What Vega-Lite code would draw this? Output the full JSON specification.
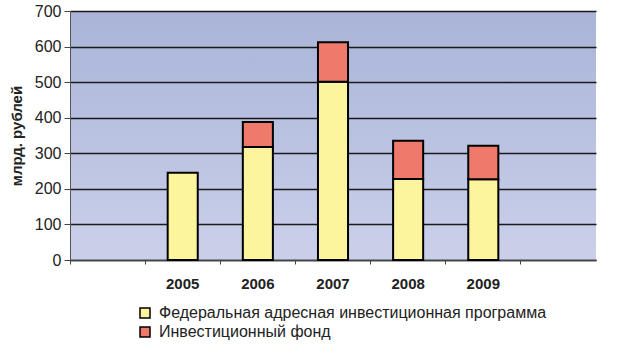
{
  "$schema": "https://vega.github.io/schema/vega-lite/v6.json",
  "autosize": "none",
  "width": 526,
  "height": 249,
  "padding": {"left": 70, "top": 11, "right": 22, "bottom": 93},
  "background": "white",
  "config": {
    "font": "Liberation Sans",
    "view": {"stroke": null, "fill": {"gradient": "linear", "x1": 0, "y1": 0, "x2": 0, "y2": 1, "stops": [{"offset": 0, "color": "#a9b4d8"}, {"offset": 1, "color": "#cbd0ea"}]}}
  },
  "data": {
    "values": [
      {"year": "2005", "series": "Федеральная адресная инвестиционная программа", "order": 1, "value": 245},
      {"year": "2006", "series": "Федеральная адресная инвестиционная программа", "order": 1, "value": 318},
      {"year": "2006", "series": "Инвестиционный фонд", "order": 2, "value": 70},
      {"year": "2007", "series": "Федеральная адресная инвестиционная программа", "order": 1, "value": 501},
      {"year": "2007", "series": "Инвестиционный фонд", "order": 2, "value": 111},
      {"year": "2008", "series": "Федеральная адресная инвестиционная программа", "order": 1, "value": 228},
      {"year": "2008", "series": "Инвестиционный фонд", "order": 2, "value": 107},
      {"year": "2009", "series": "Федеральная адресная инвестиционная программа", "order": 1, "value": 227},
      {"year": "2009", "series": "Инвестиционный фонд", "order": 2, "value": 94}
    ]
  },
  "mark": {"type": "bar", "stroke": "black", "strokeWidth": 2, "width": {"band": 0.4}},
  "encoding": {
    "x": {
      "field": "year",
      "type": "ordinal",
      "scale": {"domain": ["", "2005", "2006", "2007", "2008", "2009", " "], "paddingInner": 0, "paddingOuter": 0},
      "axis": {
        "title": null,
        "labelAngle": 0,
        "labelFont": "Liberation Sans",
        "labelFontSize": 15,
        "labelFontWeight": "bold",
        "labelColor": "#222",
        "labelPadding": 12,
        "labelBound": false,
        "bandPosition": 0,
        "tickColor": "#444",
        "tickSize": 4,
        "domainColor": "#444",
        "domainWidth": 1.5,
        "grid": false
      }
    },
    "y": {
      "field": "value",
      "type": "quantitative",
      "stack": "zero",
      "scale": {"domain": [0, 700], "nice": false},
      "axis": {
        "title": "млрд. рублей",
        "titleFont": "Liberation Sans",
        "titleFontSize": 15,
        "titleFontWeight": "bold",
        "titleColor": "#222",
        "titlePadding": 10,
        "values": [0, 100, 200, 300, 400, 500, 600, 700],
        "labelFont": "Liberation Sans",
        "labelFontSize": 16,
        "labelColor": "#222",
        "labelPadding": 3,
        "tickColor": "#444",
        "tickSize": 6,
        "domainColor": "#555",
        "grid": true,
        "gridColor": "#1a1a1a",
        "gridWidth": 1.3
      }
    },
    "color": {
      "field": "series",
      "type": "nominal",
      "sort": ["Федеральная адресная инвестиционная программа", "Инвестиционный фонд"],
      "scale": {"domain": ["Федеральная адресная инвестиционная программа", "Инвестиционный фонд"], "range": ["#fdf49e", "#ef7a6c"]},
      "legend": {
        "title": null,
        "orient": "none",
        "legendX": 67,
        "legendY": 294,
        "direction": "vertical",
        "symbolType": "square",
        "symbolSize": 100,
        "symbolStrokeColor": "black",
        "symbolStrokeWidth": 1.5,
        "labelFont": "Liberation Sans",
        "labelFontSize": 16,
        "labelColor": "#222",
        "labelLimit": 560,
        "rowPadding": 3,
        "labelOffset": 6
      }
    },
    "order": {"field": "order", "type": "quantitative"}
  }
}
